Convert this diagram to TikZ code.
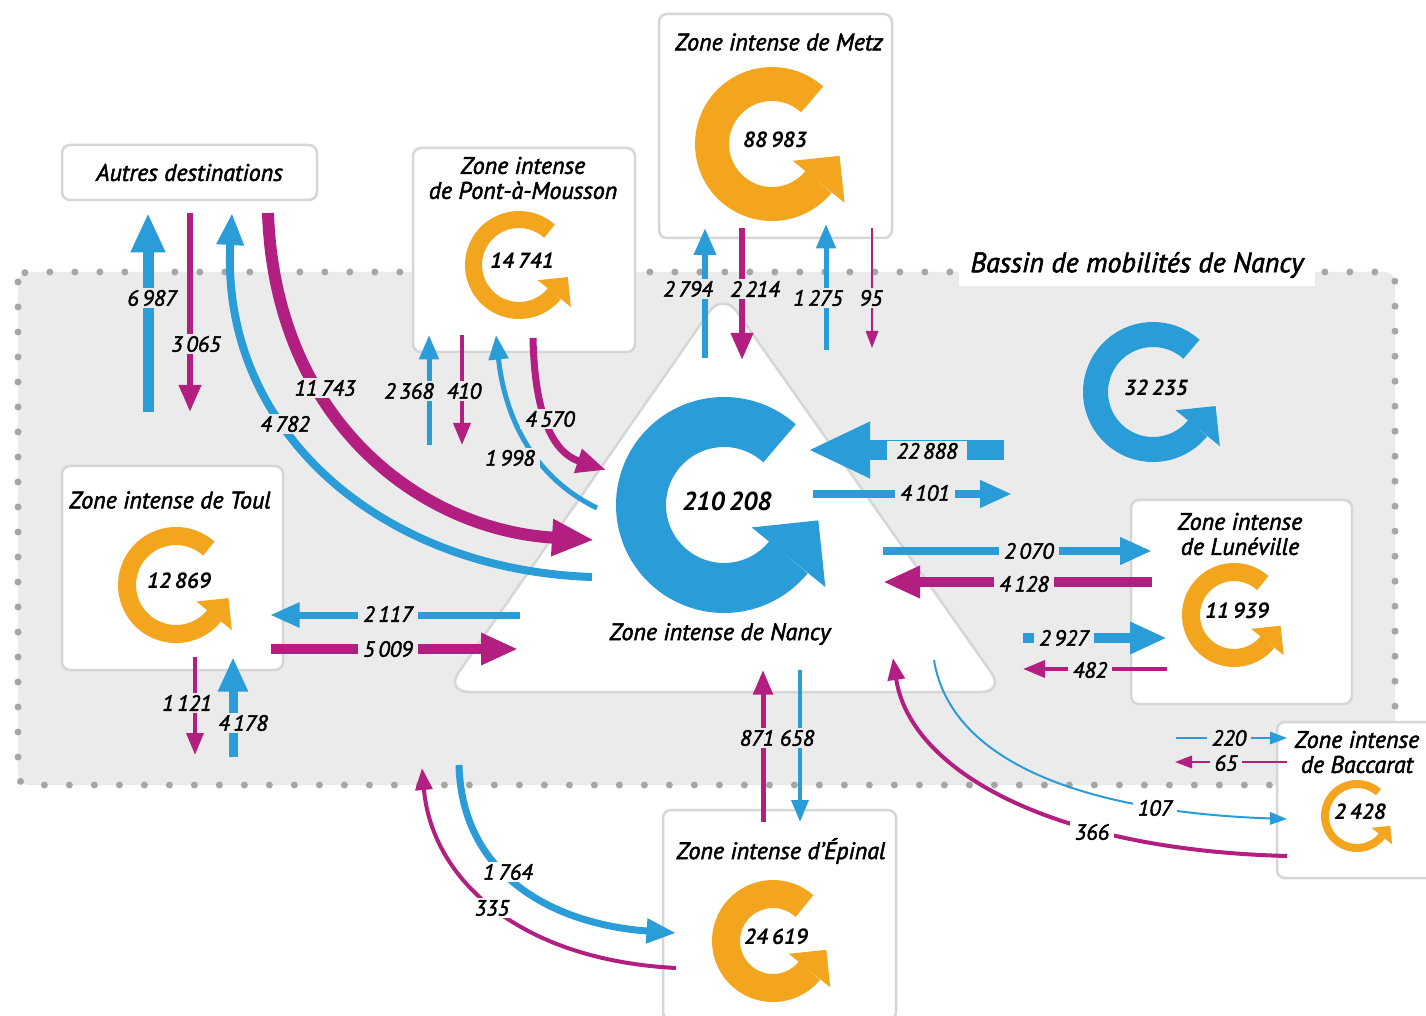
\documentclass[tikz,border=0pt]{standalone}
\usepackage{fontspec}
\setmainfont{PT Sans}[ItalicFeatures={FakeBold=2}]
\usepackage{tikz}
\usetikzlibrary{arrows.meta}

\definecolor{nblue}{HTML}{2A9DD8}
\definecolor{nmag}{HTML}{B21F81}
\definecolor{norange}{HTML}{F3A51D}
\definecolor{bassin}{HTML}{EBEBEB}
\definecolor{dots}{HTML}{A6A6A6}
\definecolor{boxline}{HTML}{D6D6D6}

\tikzstyle{zonebox} = [draw=boxline, fill=white, line width=1.25pt, rounded corners=4pt]
\tikzstyle{title} = [font=\fontsize{12}{12.5}\selectfont\itshape, align=center, inner sep=0pt]
\tikzstyle{number} = [font=\fontsize{11}{13}\selectfont\bfseries\itshape, inner sep=0pt]
\tikzstyle{lbl} = [font=\fontsize{11}{13}\selectfont\itshape, fill=bassin, inner xsep=2.5pt, inner ysep=1pt]
\tikzstyle{flow} = [-{Triangle[length=6pt 2.5, width=4pt 2.2]}]
\tikzstyle{bflow} = [flow, draw=nblue]
\tikzstyle{mflow} = [flow, draw=nmag]

% loop arrow: name, centre, outer radius, thickness, colour, number
\newcommand{\gloop}[6]{%
  \begin{scope}[shift={(#2)}]
    \draw[#5, line width=#4*0.5pt] (-48:{#3-#4/2}) arc[start angle=-48, end angle=-321, radius={#3-#4/2}];
    \fill[#5] (39:{#3-#4/2}) +(219:{0.3*#3+0.3*#4}) -- +(39:{0.3*#3+0.3*#4}) -- +(-51:{0.3*#3+0.3*#4}) -- cycle;
    \node[number] (#1) at (3,-4) {#6};
  \end{scope}}

\begin{document}
\begin{tikzpicture}[x=0.5pt, y=-0.5pt]
  \useasboundingbox (0,0) rectangle (1426,1016);

  % Bassin de mobilites
  \draw[fill=bassin, draw=dots, line width=3.5pt, line cap=round, dash pattern=on 0pt off 12.5pt, rounded corners=5pt] (18,272) rectangle (1395,785);
  \node[font=\fontsize{14}{16}\selectfont\itshape, fill=white, inner xsep=6pt, inner ysep=4pt] (bassinlbl) at (1137,265) {Bassin de mobilités de Nancy};

  % Nancy triangle
  \draw[draw=boxline, fill=white, line width=1.25pt, rounded corners=12pt] (723,292) -- (1005,692) -- (445,692) -- cycle;
  \node[title] (nancytxt) at (720,634) {Zone intense de Nancy};

  % Zones
  \node[zonebox, minimum width=127.5pt, minimum height=27.5pt, font=\fontsize{12}{12.5}\selectfont\itshape] (autres) at (189.5,172.5) {Autres destinations};
  \node[zonebox, minimum width=111pt, minimum height=102pt] (pam) at (524,250) {};
  \node[zonebox, minimum width=116.5pt, minimum height=112pt] (metz) at (775.5,126) {};
  \node[zonebox, minimum width=110.5pt, minimum height=102pt] (toul) at (172.5,568) {};
  \node[zonebox, minimum width=110.5pt, minimum height=102pt] (lune) at (1241.5,602) {};
  \node[zonebox, minimum width=79.5pt, minimum height=78pt] (bacc) at (1356.5,800) {};
  \node[zonebox, minimum width=116.5pt, minimum height=105pt] (epinal) at (779.5,915) {};

  \node[title] (pamtxt) at (523,178) {Zone intense\\de Pont-à-Mousson};
  \node[title] (metztxt) at (779,42) {Zone intense de Metz};
  \node[title] (toultxt) at (170,500) {Zone intense de Toul};
  \node[title] (lunetxt) at (1240,534) {Zone intense\\de Lunéville};
  \node[title] (bacctxt) at (1357,752) {Zone intense\\de Baccarat};
  \node[title] (epinaltxt) at (781,851) {Zone intense d’Épinal};

  % Loops
  \gloop{gnancy}{724,505}{108}{50}{nblue}{\fontsize{13}{15}\selectfont 210\,208}
  \gloop{gbassin}{1153,392}{70}{25}{nblue}{32\,235}
  \gloop{gmetz}{772,144}{77}{34}{norange}{88\,983}
  \gloop{gpam}{519,265}{54}{17}{norange}{14\,741}
  \gloop{gtoul}{176,585}{58}{18}{norange}{12\,869}
  \gloop{glune}{1234,615}{52}{18}{norange}{11\,939}
  \gloop{gbacc}{1357,816}{36}{8}{norange}{2\,428}
  \gloop{gepinal}{773,941}{61}{28}{norange}{24\,619}

  % Autres destinations
  \coordinate (a6987) at (148,412); \coordinate (b6987) at (148,213);
  \coordinate (a3065) at (190,213); \coordinate (b3065) at (190,412);
  \coordinate (a4782) at (592,577); \coordinate (b4782) at (232,213);
  \coordinate (a11743) at (268,213); \coordinate (b11743) at (594,540);
  \draw[bflow, line width=5.5pt] (a6987) -- (b6987);
  \draw[mflow, line width=3pt] (a3065) -- (b3065);
  \draw[bflow, line width=4pt] (a4782) .. controls (380,570) and (220,430) .. (b4782);
  \draw[mflow, line width=6pt] (a11743) .. controls (275,420) and (420,530) .. (b11743);

  % Pont-a-Mousson
  \coordinate (a2368) at (429,445); \coordinate (b2368) at (429,335);
  \coordinate (a410) at (462,335); \coordinate (b410) at (462,445);
  \coordinate (a1998) at (597,508); \coordinate (b1998) at (496,335);
  \coordinate (a4570) at (533,338); \coordinate (b4570) at (606,470);
  \draw[bflow, line width=2.5pt] (a2368) -- (b2368);
  \draw[mflow, line width=2pt] (a410) -- (b410);
  \draw[bflow, line width=2.5pt] (a1998) .. controls (535,478) and (505,420) .. (b1998);
  \draw[mflow, line width=3.5pt] (a4570) .. controls (535,430) and (560,455) .. (b4570);

  % Metz
  \coordinate (a2794) at (705,358); \coordinate (b2794) at (705,228);
  \coordinate (a2214) at (742,228); \coordinate (b2214) at (742,360);
  \coordinate (a1275) at (826,350); \coordinate (b1275) at (826,224);
  \coordinate (a95) at (872,228); \coordinate (b95) at (872,348);
  \draw[bflow, line width=3pt] (a2794) -- (b2794);
  \draw[mflow, line width=3pt] (a2214) -- (b2214);
  \draw[bflow, line width=2.5pt] (a1275) -- (b1275);
  \draw[mflow, line width=1pt] (a95) -- (b95);

  % Bassin / Nancy
  \coordinate (a22888) at (1004,450); \coordinate (b22888) at (808,450);
  \coordinate (a4101) at (813,494); \coordinate (b4101) at (1012,494);
  \draw[bflow, line width=10pt] (a22888) -- (b22888);
  \draw[bflow, line width=4pt] (a4101) -- (b4101);

  % Luneville
  \coordinate (a2070) at (883,551); \coordinate (b2070) at (1152,551);
  \coordinate (a4128) at (1152,582); \coordinate (b4128) at (883,582);
  \coordinate (a2927) at (1023,638); \coordinate (b2927) at (1167,638);
  \coordinate (a482) at (1167,669); \coordinate (b482) at (1023,669);
  \draw[bflow, line width=4pt] (a2070) -- (b2070);
  \draw[mflow, line width=5pt] (a4128) -- (b4128);
  \draw[bflow, line width=5pt] (a2927) -- (b2927);
  \draw[mflow, line width=2pt] (a482) -- (b482);

  % Toul
  \coordinate (a2117) at (520,615); \coordinate (b2117) at (270,615);
  \coordinate (a5009) at (271,649); \coordinate (b5009) at (518,649);
  \coordinate (a1121) at (195,657); \coordinate (b1121) at (195,755);
  \coordinate (a4178) at (233,757); \coordinate (b4178) at (233,657);
  \draw[bflow, line width=3.5pt] (a2117) -- (b2117);
  \draw[mflow, line width=5pt] (a5009) -- (b5009);
  \draw[mflow, line width=2pt] (a1121) -- (b1121);
  \draw[bflow, line width=4.5pt] (a4178) -- (b4178);

  % Epinal
  \coordinate (a871) at (763,822); \coordinate (b871) at (763,670);
  \coordinate (a658) at (800,670); \coordinate (b658) at (800,822);
  \coordinate (a1764) at (459,765); \coordinate (b1764) at (676,933);
  \coordinate (a335) at (676,968); \coordinate (b335) at (422,768);
  \draw[mflow, line width=2.5pt] (a871) -- (b871);
  \draw[bflow, line width=2pt] (a658) -- (b658);
  \draw[bflow, line width=3.5pt] (a1764) .. controls (462,880) and (560,925) .. (b1764);
  \draw[mflow, line width=2pt] (a335) .. controls (520,960) and (432,880) .. (b335);

  % Baccarat
  \coordinate (a220) at (1176,738); \coordinate (b220) at (1287,738);
  \coordinate (a65) at (1287,762); \coordinate (b65) at (1175,762);
  \coordinate (a107) at (934,660); \coordinate (b107) at (1287,819);
  \coordinate (a366) at (1287,856); \coordinate (b366) at (893,658);
  \draw[bflow, line width=1pt] (a220) -- (b220);
  \draw[mflow, line width=1pt] (a65) -- (b65);
  \draw[bflow, line width=1pt] (a107) .. controls (950,760) and (1080,812) .. (b107);
  \draw[mflow, line width=2pt] (a366) .. controls (1050,850) and (910,770) .. (b366);

  % Flow labels
  \node[lbl] (l6987) at (152,298) {6\,987};
  \node[lbl] (l3065) at (196,344) {3\,065};
  \node[lbl] (l4782) at (285,424) {4\,782};
  \node[lbl] (l11743) at (325,388) {11\,743};
  \node[lbl] (l2368) at (409,391) {2\,368};
  \node[lbl] (l410) at (464,391) {410};
  \node[lbl] (l1998) at (510,458) {1\,998};
  \node[lbl] (l4570) at (550,419) {4\,570};
  \node[lbl] (l2794) at (688,289) {2\,794};
  \node[lbl] (l2214) at (755,289) {2\,214};
  \node[lbl] (l1275) at (818,298) {1\,275};
  \node[lbl] (l95) at (871,298) {95};
  \node[lbl, inner xsep=5pt] (l22888) at (927,451) {22\,888};
  \node[lbl] (l4101) at (925,493) {4\,101};
  \node[lbl] (l2070) at (1029,551) {2\,070};
  \node[lbl] (l4128) at (1024,584) {4\,128};
  \node[lbl] (l2927) at (1064,638) {2\,927};
  \node[lbl] (l482) at (1090,670) {482};
  \node[lbl] (l2117) at (388,614) {2\,117};
  \node[lbl] (l5009) at (388,649) {5\,009};
  \node[lbl] (l1121) at (187,703) {1\,121};
  \node[lbl] (l4178) at (243,723) {4\,178};
  \node[lbl] (l871) at (757,738) {871};
  \node[lbl] (l658) at (797,738) {658};
  \node[lbl, fill=white] (l1764) at (508,872) {1\,764};
  \node[lbl, fill=white] (l335) at (492,908) {335};
  \node[lbl] (l220) at (1229,738) {220};
  \node[lbl] (l65) at (1226,763) {65};
  \node[lbl, fill=white] (l107) at (1155,808) {107};
  \node[lbl, fill=white] (l366) at (1092,832) {366};
\end{tikzpicture}
\end{document}
